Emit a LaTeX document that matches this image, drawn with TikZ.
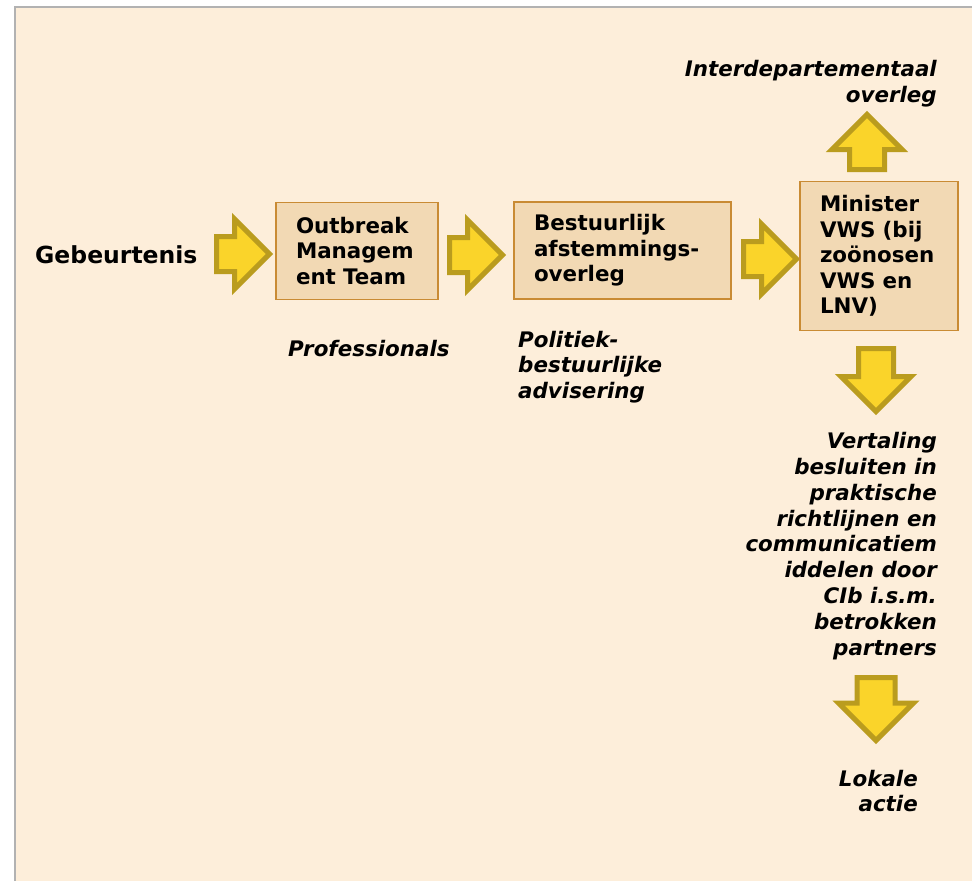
\documentclass[tikz,border=0pt]{standalone}
\usepackage{fontspec}
\setmainfont{DejaVu Sans}
\usetikzlibrary{shapes.arrows,positioning}
\definecolor{peach}{RGB}{253,238,218}
\definecolor{boxfill}{RGB}{242,217,180}
\definecolor{boxline}{RGB}{201,139,52}
\definecolor{arrowfill}{RGB}{250,212,42}
\definecolor{arrowline}{RGB}{186,156,30}
\tikzset{
	box/.style={draw=boxline, fill=boxfill, line width=1.5pt, inner xsep=20pt, inner ysep=0pt, align=left, font=\fontsize{21.4}{25.5}\selectfont\bfseries},
	bigarrow/.style={single arrow, draw=arrowline, fill=arrowfill, line width=5pt, anchor=tail, inner xsep=0pt, inner ysep=15pt, minimum height=53pt, single arrow head extend=17.5pt},
	downarrow/.style={bigarrow, shape border rotate=270, inner xsep=15pt, inner ysep=0pt, minimum height=63pt},
	txt/.style={inner sep=0pt, font=\fontsize{23.5}{28}\selectfont\bfseries},
	note/.style={inner sep=0pt, align=right, font=\fontsize{21.4}{25.8}\selectfont\bfseries\itshape}
}
\begin{document}
\begin{tikzpicture}[x=1pt, y=-1pt]
	\useasboundingbox (0,0) rectangle (972,881);
	\fill[peach] (15,7) rectangle (972,881);
	\draw[gray!60, line width=1.5pt] (15,881) -- (15,7) -- (972,7);
	\node[txt, anchor=west]		(0)	at (35,255)		{Gebeurtenis};
	\node[bigarrow]		(1)	at (214,254)	{};
	\node[box, text width=122pt, minimum height=97pt]	(2)	at (357,251)	{Outbreak\\Managem\\ent Team};
	\node[bigarrow]		(3)	at (447,255)	{};
	\node[box, text width=177pt, minimum height=97pt]	(4)	at (622.5,250.5)	{Bestuurlijk\\afstemmings-\\overleg};
	\node[bigarrow]		(5)	at (741,259)	{};
	\node[box, text width=118pt, minimum height=149pt]	(6)	at (879,256)	{Minister\\VWS (bij\\zoönosen\\VWS en\\LNV)};
	\node[downarrow, shape border rotate=90, minimum height=55pt]	(7)	at (867,172)	{};
	\node[note, anchor=east]	(8)	at (937,84)		{Interdepartementaal\\overleg};
	\node[downarrow]	(9)	at (876,346)	{};
	\node[note, anchor=east]	(10)	at (937,546)	{Vertaling\\besluiten in\\praktische\\richtlijnen en\\communicatiem\\iddelen door\\CIb i.s.m.\\betrokken\\partners};
	\node[downarrow, inner xsep=16.5pt, single arrow head extend=18.5pt]	(11)	at (876,675)	{};
	\node[note, anchor=east]	(12)	at (918,791)	{Lokale\\actie};
	\node[note, anchor=west]	(13)	at (288,349)	{Professionals};
	\node[note, anchor=west, align=left]	(14)	at (518,367)	{Politiek-\\bestuurlijke\\advisering};
\end{tikzpicture}
\end{document}
